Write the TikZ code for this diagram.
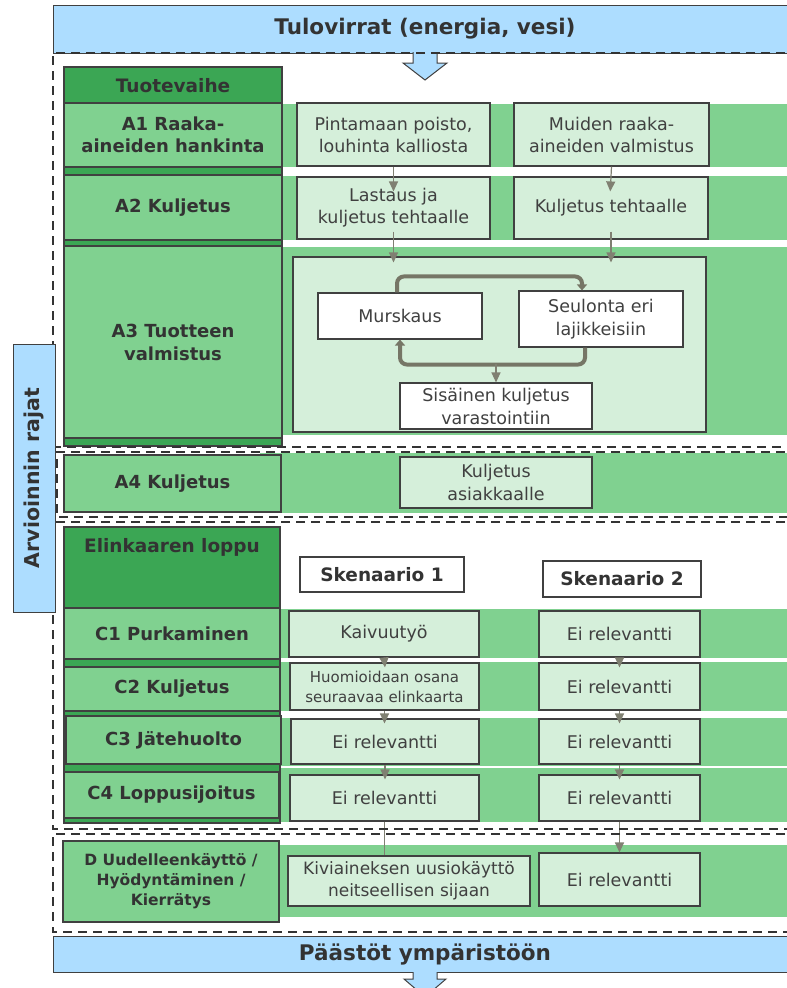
\documentclass[tikz,border=0pt]{standalone}
\usepackage{fontspec}
\setmainfont{DejaVu Sans}
\usetikzlibrary{arrows.meta}
\definecolor{dgreen}{RGB}{59,166,84}
\definecolor{mgreen}{RGB}{128,209,144}
\definecolor{lgreen}{RGB}{213,239,218}
\definecolor{lblue}{RGB}{173,221,255}
\definecolor{bord}{RGB}{64,64,64}
\definecolor{txt}{RGB}{51,51,51}
\definecolor{txtb}{RGB}{64,64,64}
\definecolor{agray}{RGB}{128,128,114}
\definecolor{lgray}{RGB}{118,118,102}
\definecolor{dashc}{RGB}{51,51,51}
\newcommand{\mybox}[7]{\node[#2, minimum width={(#5)-(#3)}, minimum height={(#6)-(#4)}] (#1) at ({((#3)+(#5))/2},{((#4)+(#6))/2}) {#7};}
\tikzset{
 band/.style={fill=mgreen, draw=none, inner sep=0pt},
 col/.style={fill=dgreen, draw=bord, line width=1.3pt, inner sep=0pt},
 lab/.style={fill=mgreen, draw=bord, line width=1.3pt, text=txt, font=\fontsize{18}{22}\selectfont\bfseries, align=center, inner sep=0pt},
 head/.style={text=txt, font=\fontsize{18.5}{22}\selectfont\bfseries, inner sep=0pt},
 proc/.style={fill=lgreen, draw=bord, line width=1.1pt, text=txtb, font=\fontsize{17.5}{22}\selectfont, align=center, inner sep=0pt},
 wproc/.style={proc, fill=white, font=\fontsize{17.5}{23}\selectfont},
 scen/.style={fill=white, draw=bord, line width=1.1pt, text=txt, font=\fontsize{18.5}{22}\selectfont\bfseries, inner sep=0pt},
 arr/.style={draw=agray, line width=1.2pt, -{Triangle[width=9pt,length=10pt]}},
 plain/.style={draw=agray, line width=1.2pt},
 loopar/.style={draw=lgray, line width=4pt, rounded corners=7pt, -{Triangle[width=10pt,length=6pt]}},
 bound/.style={draw=dashc, line width=2.8pt, dash pattern=on 9pt off 6pt},
 bluebox/.style={fill=lblue, draw=bord, line width=1pt, text=txt, font=\fontsize{21.5}{24}\selectfont\bfseries, inner sep=0pt},
}
\begin{document}
\begin{tikzpicture}[x=1pt,y=-1pt]
\useasboundingbox (0,0) rectangle (787,988);
\clip (0,0) rectangle (787,988);
% bands
\mybox{bA1}{band}{282}{104}{800}{167}{}
\mybox{bA2}{band}{282}{176}{800}{240}{}
\mybox{bA3}{band}{282}{247}{800}{435}{}
\mybox{bA4}{band}{260}{453}{800}{513}{}
\mybox{bC1}{band}{280}{609}{800}{658}{}
\mybox{bC2}{band}{280}{662}{800}{711}{}
\mybox{bC3}{band}{280}{718}{800}{766}{}
\mybox{bC4}{band}{280}{768}{800}{822}{}
\mybox{bD}{band}{280}{845}{800}{917}{}
% dark columns
\mybox{colA}{col}{64}{67}{282}{446}{}
\mybox{colC}{col}{64}{527}{280}{823}{}
\node[head] (tuote) at (173,86) {Tuotevaihe};
\node[head] (elin) at (172,547) {Elinkaaren loppu};
% row labels
\mybox{lA1}{lab}{64}{103}{282}{167}{A1 Raaka-\\aineiden hankinta}
\mybox{lA2}{lab}{64}{175}{282}{240}{A2 Kuljetus}
\mybox{lA3}{lab, font=\fontsize{18}{23}\selectfont\bfseries}{64}{246}{282}{438}{A3 Tuotteen\\valmistus}
\mybox{lA4}{lab}{64}{455}{281}{512}{A4 Kuljetus}
\mybox{lC1}{lab}{64}{608}{280}{659}{C1 Purkaminen}
\mybox{lC2}{lab}{64}{667}{280}{711}{C2 Kuljetus}
\mybox{lC3}{lab}{66}{716}{281}{764}{C3 Jätehuolto}
\mybox{lC4}{lab}{64}{772}{279}{818}{C4 Loppusijoitus}
\mybox{lD}{lab, font=\fontsize{15.5}{20}\selectfont\bfseries}{63}{841}{279}{922}{D Uudelleenkäyttö /\\Hyödyntäminen /\\Kierrätys}
% A boxes
\mybox{pint}{proc}{297}{103}{490}{166}{Pintamaan poisto,\\louhinta kalliosta}
\mybox{muid}{proc}{514}{103}{709}{166}{Muiden raaka-\\aineiden valmistus}
\mybox{last}{proc}{297}{177}{490}{239}{Lastaus ja\\kuljetus tehtaalle}
\mybox{kulj}{proc}{514}{177}{708}{239}{Kuljetus tehtaalle}
\mybox{a3box}{proc}{293}{257}{706}{432}{}
\mybox{murs}{wproc}{318}{293}{482}{339}{Murskaus}
\mybox{seul}{wproc}{519}{291}{683}{347}{Seulonta eri\\lajikkeisiin}
\mybox{sis}{wproc}{400}{383}{592}{429}{Sisäinen kuljetus\\varastointiin}
\mybox{asi}{proc, font=\fontsize{17.5}{23}\selectfont}{400}{457}{592}{508}{Kuljetus\\asiakkaalle}
% scenarios
\mybox{sk1}{scen}{300}{557}{464}{592}{Skenaario 1}
\mybox{sk2}{scen}{543}{561}{701}{597}{Skenaario 2}
\mybox{kaiv}{proc}{289}{611}{479}{657}{Kaivuutyö}
\mybox{huom}{proc, font=\fontsize{15}{20}\selectfont}{290}{663}{479}{710}{Huomioidaan osana\\seuraavaa elinkaarta}
\mybox{e13}{proc}{291}{719}{479}{764}{Ei relevantti}
\mybox{e14}{proc}{290}{775}{479}{821}{Ei relevantti}
\mybox{kivi}{proc, font=\fontsize{17}{22}\selectfont}{288}{856}{530}{906}{Kiviaineksen uusiokäyttö\\neitseellisen sijaan}
\mybox{e21}{proc}{539}{611}{700}{657}{Ei relevantti}
\mybox{e22}{proc}{539}{663}{700}{710}{Ei relevantti}
\mybox{e23}{proc}{539}{719}{700}{764}{Ei relevantti}
\mybox{e24}{proc}{539}{775}{700}{821}{Ei relevantti}
\mybox{e2D}{proc}{539}{853}{700}{906}{Ei relevantti}
% thin arrows
\draw[arr, shorten >=-15pt] (pint.south) -- (last.north);
\draw[arr, shorten >=-15pt] (muid.south) -- (kulj.north);
\draw[arr, shorten >=-6pt] ([yshift=8pt]last.south) -- (last.south |- a3box.north);
\draw[arr, shorten >=-6pt] ([yshift=8pt]kulj.south) -- (kulj.south |- a3box.north);
% loop arrows
\draw[loopar] ([xshift=-3pt]murs.north) -- ++(0,-16) -| ([xshift=-19pt]seul.north);
\draw[loopar] ([xshift=-16pt]seul.south) -- ++(0,17) -| (murs.south);
\coordinate (j) at (sis.north |- 0,364);
\draw[arr] (j) -- (sis.north);
% C arrows
\draw[arr, shorten >=-5pt] (kaiv.south) -- (huom.north);
\draw[arr, shorten >=-5pt] (huom.south) -- (huom.south |- e13.north);
\draw[arr, shorten >=-5pt] (e13.south) -- (e13.south |- e14.north);
\draw[plain] (e14.south) -- (e14.south |- kivi.north);
\draw[arr, shorten >=-5pt] (e21.south) -- (e22.north);
\draw[arr, shorten >=-5pt] (e22.south) -- (e23.north);
\draw[arr, shorten >=-5pt] (e23.south) -- (e24.north);
\draw[arr] (e24.south) -- (e2D.north);
% blue boxes
\mybox{tulo}{bluebox}{53}{5}{797}{53}{Tulovirrat (energia, vesi)}
\mybox{paas}{bluebox}{53}{936}{797}{972}{Päästöt ympäristöön}
\draw[fill=lblue, draw=bord, line width=1pt] (413,52) -- (413,63) -- (403,63) -- (425,80) -- (447,63) -- (437,63) -- (437,52);
\draw[fill=lblue, draw=bord, line width=1pt] (413,972) -- (413,979) -- (404,979) -- (425,997) -- (446,979) -- (437,979) -- (437,972);
% boundaries
\draw[bound] (800,53) -- (53,53) -- (53,447) -- (800,447);
\draw[bound] (800,452) -- (57,452) -- (57,517) -- (800,517);
\draw[bound] (800,522) -- (53,522) -- (53,829) -- (800,829);
\draw[bound] (800,834) -- (53,834) -- (53,932) -- (800,932);
% side label
\node[bluebox, font=\fontsize{20.5}{24}\selectfont\bfseries, rotate=90, minimum width=268pt, minimum height=42pt] (arv) at (34,478) {Arvioinnin rajat};
\end{tikzpicture}
\end{document}
